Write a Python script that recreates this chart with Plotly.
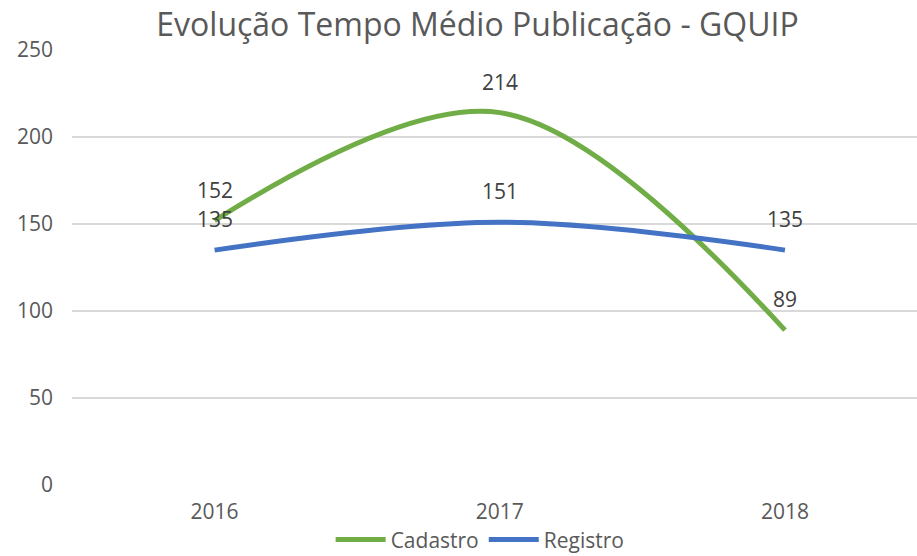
import plotly.graph_objects as go

years = ["2016", "2017", "2018"]
cadastro = [152, 214, 89]
registro = [135, 151, 135]
y_ticks = [0, 50, 100, 150, 200, 250]

GREEN = "#70AD47"
BLUE = "#4472C4"
TXT = "#595959"
FONT = "Open Sans"

fig = go.Figure()
fig.add_trace(go.Scatter(x=years, y=cadastro, name="Cadastro", mode="lines",
                         line=dict(color=GREEN, width=5, shape="spline", smoothing=1.0)))
fig.add_trace(go.Scatter(x=years, y=registro, name="Registro", mode="lines",
                         line=dict(color=BLUE, width=5, shape="spline", smoothing=1.0)))

for series in (cadastro, registro):
    for i, yv in enumerate(series):
        fig.add_annotation(x=i, y=yv, xref="x", yref="y", text=str(yv), showarrow=False,
                           yshift=31, font=dict(family=FONT, size=21, color="#404040"))

fig.update_layout(
    width=917, height=556,
    paper_bgcolor="white", plot_bgcolor="white",
    margin=dict(l=72, r=0, t=50, b=71, autoexpand=False),
    title=dict(text="Evolução Tempo Médio Publicação - GQUIP", x=0.5207, xanchor="center",
               y=0.955, yanchor="middle",
               font=dict(family=FONT, size=32, color=TXT)),
    font=dict(family=FONT, size=21, color=TXT),
    showlegend=True,
    hovermode=False,
    legend=dict(orientation="h", x=0.483, xanchor="center", y=-0.126, yanchor="middle",
                font=dict(family=FONT, size=21, color=TXT), itemwidth=50),
    xaxis=dict(type="category", range=[-0.5, 2.463], showgrid=False, zeroline=False,
               showline=False, ticks="", ticklabelstandoff=12, tickfont=dict(size=21, color=TXT)),
    yaxis=dict(range=[0, 250], tickvals=y_ticks, showgrid=True, gridcolor="#D9D9D9",
               gridwidth=1.5, zeroline=False, showline=False, ticks="", ticklabelstandoff=18,
               tickfont=dict(size=21, color=TXT)),
)

fig.write_html("out.html", config={"displayModeBar": False},
               post_script="document.body.style.margin='0';document.body.style.overflow='hidden';")
